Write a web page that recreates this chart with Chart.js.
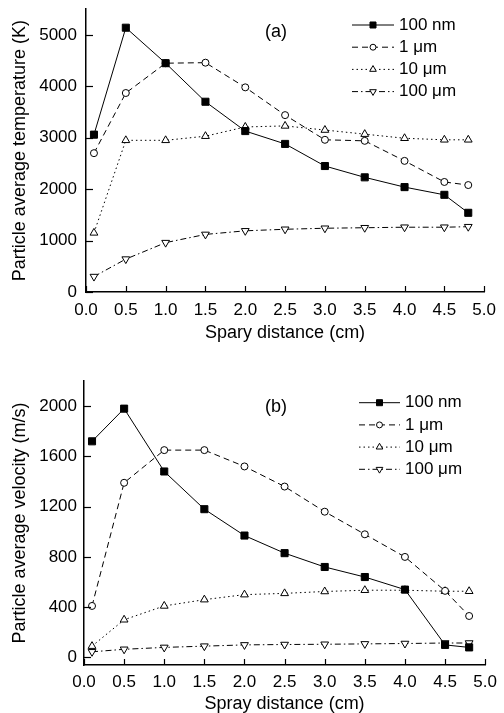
<!DOCTYPE html>
<html><head><meta charset="utf-8">
<script src="https://cdn.jsdelivr.net/npm/chart.js@4/dist/chart.umd.min.js"></script>
<style>
html,body{margin:0;padding:0;background:#fff;overflow:hidden;}
#wrap{position:relative;width:504px;height:713px;overflow:hidden;}
#c1{position:absolute;left:0;top:-10px;}
#c2{position:absolute;left:0;top:345px;}
</style></head><body>
<div id="wrap">
<canvas id="c1" width="504" height="360" style="width:504px;height:360px"></canvas>
<canvas id="c2" width="504" height="380" style="width:504px;height:380px"></canvas>
</div>
<script>
// ---- data ----
const distances = [0.1, 0.5, 1.0, 1.5, 2.0, 2.5, 3.0, 3.5, 4.0, 4.5, 4.8];
const seriesNames = ['100 nm', '1 \u03bcm', '10 \u03bcm', '100 \u03bcm'];
const temp100nm = [3060, 5140, 4450, 3700, 3130, 2880, 2450, 2230, 2040, 1890, 1540];
const temp1um   = [2700, 3870, 4450, 4460, 3980, 3440, 2960, 2940, 2550, 2140, 2080];
const temp10um  = [1150, 2950, 2950, 3030, 3210, 3230, 3150, 3070, 2990, 2960, 2960];
const temp100um = [300, 640, 960, 1120, 1190, 1220, 1240, 1250, 1260, 1260, 1270];
const vel100nm = [1720, 1980, 1480, 1180, 970, 830, 720, 640, 540, 100, 80];
const vel1um   = [410, 1390, 1650, 1650, 1520, 1360, 1160, 980, 800, 530, 330];
const vel10um  = [90, 300, 410, 460, 500, 510, 525, 535, 535, 527, 527];
const vel100um = [45, 65, 80, 90, 100, 103, 105, 108, 111, 115, 115];
const xTicks = [0, 0.5, 1.0, 1.5, 2.0, 2.5, 3.0, 3.5, 4.0, 4.5, 5.0];
const tempTicks = [0, 1000, 2000, 3000, 4000, 5000];
const velTicks = [0, 400, 800, 1200, 1600, 2000];

const FONT = "'Liberation Sans', Arial, Helvetica, sans-serif";

const seriesStyles = [
  {pointStyle: 'rect', pointRadius: 5, bg: '#000', dash: [], rot: 0},
  {pointStyle: 'circle', pointRadius: 3.5, bg: '#fff', dash: [6, 4], rot: 0},
  {pointStyle: 'triangle', pointRadius: 4.5, bg: '#fff', dash: [1.5, 3], rot: 0},
  {pointStyle: 'triangle', pointRadius: 4.5, bg: '#fff', dash: [6, 3, 1.5, 3], rot: 180}
];

function makeDatasets(seriesList) {
  return seriesList.map((vals, i) => {
    const s = seriesStyles[i];
    return {
      label: seriesNames[i],
      data: distances.map((d, j) => ({x: d, y: vals[j]})),
      borderColor: '#000',
      borderWidth: 1,
      borderDash: s.dash,
      pointStyle: s.pointStyle,
      pointRadius: s.pointRadius,
      pointRotation: s.rot,
      pointBackgroundColor: s.bg,
      pointBorderColor: '#000',
      pointBorderWidth: 1,
      pointHoverRadius: s.pointRadius,
      fill: false,
      tension: 0
    };
  });
}

const inwardTicks = {
  id: 'inwardTicks',
  afterDraw(chart) {
    const ctx = chart.ctx, a = chart.chartArea;
    const xs = chart.scales.x, ys = chart.scales.y;
    ctx.save();
    ctx.strokeStyle = '#000';
    ctx.lineWidth = 1.2;
    xs.ticks.forEach(t => {
      const px = Math.round(xs.getPixelForValue(t.value)) + 0.5;
      ctx.beginPath(); ctx.moveTo(px, a.bottom); ctx.lineTo(px, a.bottom - 6); ctx.stroke();
    });
    ys.ticks.forEach(t => {
      const py = Math.round(ys.getPixelForValue(t.value)) + 0.5;
      ctx.beginPath(); ctx.moveTo(a.left, py); ctx.lineTo(a.left + 7, py); ctx.stroke();
    });
    ctx.restore();
  }
};

const lineLegend = {
  id: 'lineLegend',
  afterDraw(chart, args, o) {
    const ctx = chart.ctx;
    ctx.save();
    chart.data.datasets.forEach((ds, i) => {
      const y = o.y + i * o.dy;
      ctx.strokeStyle = '#000';
      ctx.lineWidth = 1;
      ctx.setLineDash(ds.borderDash || []);
      ctx.beginPath(); ctx.moveTo(o.x1, y); ctx.lineTo(o.x2, y); ctx.stroke();
      ctx.setLineDash([]);
      ctx.fillStyle = ds.pointBackgroundColor;
      ctx.strokeStyle = '#000';
      ctx.lineWidth = 1;
      Chart.helpers.drawPoint(ctx, {
        pointStyle: ds.pointStyle, rotation: ds.pointRotation || 0,
        radius: ds.pointRadius * 0.85, borderWidth: 1
      }, (o.x1 + o.x2) / 2, y);
      ctx.fillStyle = '#000';
      ctx.font = '17px ' + FONT;
      ctx.textAlign = 'left';
      ctx.textBaseline = 'middle';
      ctx.fillText(ds.label, o.tx, y);
    });
    ctx.font = '18px ' + FONT;
    ctx.textAlign = 'left';
    ctx.textBaseline = 'middle';
    ctx.fillStyle = '#000';
    ctx.fillText(o.tag, o.tagX, o.tagY);
    ctx.restore();
  }
};

function makeChart(id, seriesList, yTicks, yMin, yMax, yTitle, xTitle, cfg) {
  return new Chart(document.getElementById(id), {
    type: 'line',
    data: {datasets: makeDatasets(seriesList)},
    plugins: [inwardTicks, lineLegend],
    options: {
      responsive: false,
      animation: false,
      events: [],
      layout: {padding: {left: 0, right: cfg.padRight, top: cfg.padTop, bottom: 0}},
      plugins: {
        legend: {display: false},
        tooltip: {enabled: false},
        lineLegend: cfg.legend
      },
      scales: {
        x: {
          type: 'linear', min: 0, max: 5,
          afterBuildTicks: s => { s.ticks = xTicks.map(v => ({value: v})); },
          afterFit: s => { s.height = cfg.xHeight; },
          grid: {display: false, drawTicks: false},
          border: {display: true, color: '#000', width: 1.5},
          ticks: {
            color: '#000', padding: cfg.xTickPad, maxRotation: 0, autoSkip: false,
            font: {family: FONT, size: 17},
            callback: v => Number(v).toFixed(1)
          },
          title: {display: true, text: xTitle, color: '#000',
                  font: {family: FONT, size: 18}, padding: {top: 0, bottom: cfg.xTitlePad}}
        },
        y: {
          type: 'linear', min: yMin, max: yMax,
          afterBuildTicks: s => { s.ticks = yTicks.map(v => ({value: v})); },
          afterFit: s => { s.width = cfg.yWidth; },
          grid: {display: false, drawTicks: false},
          border: {display: true, color: '#000', width: 1.5},
          ticks: {
            color: '#000', padding: cfg.yTickPad, autoSkip: false,
            font: {family: FONT, size: 17},
            callback: v => String(v)
          },
          title: {display: true, text: yTitle, color: '#000',
                  font: {family: FONT, size: 18}, padding: {top: 9, bottom: 0}}
        }
      }
    }
  });
}

// top canvas is shifted up by 10px, so its internal coordinates are +10
makeChart('c1', [temp100nm, temp1um, temp10um, temp100um], tempTicks, 0, 5500,
  'Particle average temperature (K)', 'Spary distance (cm)',
  {padRight: 17, padTop: 19, xHeight: 58, yWidth: 86, yTickPad: 9, xTickPad: 8, xTitlePad: 6.5,
   legend: {x1: 352, x2: 394, tx: 399, y: 35, dy: 22.2, tag: '(a)', tagX: 265, tagY: 42}});

makeChart('c2', [vel100nm, vel1um, vel10um, vel100um], velTicks, -60, 2200,
  'Particle average velocity (m/s)', 'Spray distance (cm)',
  {padRight: 13, padTop: 36, xHeight: 60, yWidth: 84, yTickPad: 7, xTickPad: 7, xTitlePad: 9.8,
   legend: {x1: 359, x2: 400, tx: 405, y: 57.7, dy: 22.2, tag: '(b)', tagX: 265, tagY: 61.7}});
</script>
</body></html>
